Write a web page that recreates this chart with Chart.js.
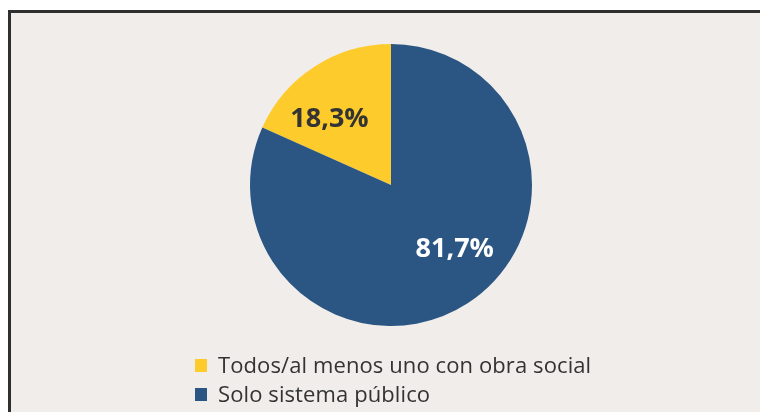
<!DOCTYPE html>
<html>
<head>
<meta charset="utf-8">
<script src="https://cdn.jsdelivr.net/npm/chart.js@4/dist/chart.umd.min.js"></script>
<style>
  html, body { margin: 0; padding: 0; background: #fff; width: 760px; height: 412px; overflow: hidden; }
  .frame { position: absolute; left: 8px; top: 10px; width: 800px; height: 500px;
           border: 3px solid #2f2f2f; background: #f0edea; }
  #chart { position: absolute; left: 0; top: 0; }
  .legend { position: absolute; left: 195px; top: 350px; font-family: "Open Sans", sans-serif;
            font-size: 22px; letter-spacing: 0.1px; color: #333; line-height: 29px; }
  .legend div { position: relative; padding-left: 23px; white-space: nowrap; }
  .legend span { position: absolute; left: 0; top: 9px; width: 12px; height: 13px; }
</style>
</head>
<body>
<div class="frame"></div>
<canvas id="chart" width="760" height="412"></canvas>
<div class="legend" id="legend"></div>
<script>
var categories = ['Todos/al menos uno con obra social', 'Solo sistema público']
var values = [18.3, 81.7]
var valueLabels = ['18,3%', '81,7%']
var colors = ['#fdcb2c', '#2b5583']
var labelColors = ['#333333', '#ffffff']

// legend as plain html, built from the same arrays
var legendEl = document.getElementById('legend')
categories.forEach(function (c, i) {
    let row = document.createElement('div')
    row.innerHTML = '<span style="background:' + colors[i] + '"></span>' + c
    legendEl.appendChild(row)
})

var total = values.reduce(function (a, b) { return a + b }, 0)

var sliceLabels = {
    id: 'sliceLabels',
    afterDatasetsDraw: function (chart) {
        let ctx = chart.ctx
        let meta = chart.getDatasetMeta(0)
        ctx.save()
        ctx.font = 'bold 27px "Open Sans", sans-serif'
        ctx.textAlign = 'center'
        ctx.textBaseline = 'middle'
        meta.data.forEach(function (arc, i) {
            let p = arc.getProps(['x', 'y', 'startAngle', 'endAngle', 'outerRadius'], true)
            let mid = (p.startAngle + p.endAngle) / 2 - (i === 0 ? 10 : 12) * Math.PI / 180
            let r = p.outerRadius * 0.64
            ctx.fillStyle = labelColors[i]
            ctx.fillText(valueLabels[i], p.x + Math.cos(mid) * r, p.y + Math.sin(mid) * r)
        })
        ctx.restore()
    }
}

new Chart(document.getElementById('chart').getContext('2d'), {
    type: 'pie',
    data: {
        labels: categories,
        datasets: [{
            data: values,
            backgroundColor: colors,
            borderWidth: 0
        }]
    },
    options: {
        responsive: false,
        animation: false,
        rotation: -values[0] / total * 360,
        layout: { padding: { left: 250, right: 228, top: 44, bottom: 86 } },
        plugins: { legend: { display: false }, tooltip: { enabled: false } }
    },
    plugins: [sliceLabels]
})
</script>
</body>
</html>
